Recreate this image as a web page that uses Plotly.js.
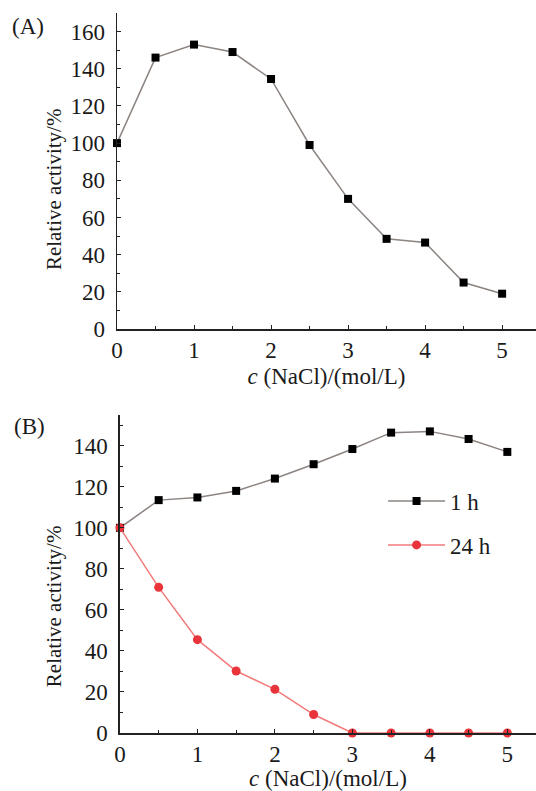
<!DOCTYPE html>
<html>
<head>
<meta charset="utf-8">
<script src="https://cdn.plot.ly/plotly-3.0.1.min.js"></script>
<style>
html,body{margin:0;padding:0;background:#fff;}
#chart{width:536px;height:791px;}
</style>
</head>
<body>
<div id="chart"></div>
<script>
// Data
const concA = [0, 0.5, 1, 1.5, 2, 2.5, 3, 3.5, 4, 4.5, 5];
const activityA = [100, 146, 153, 149, 134.5, 99, 70, 48.5, 46.5, 25, 19];

const concB = [0, 0.5, 1, 1.5, 2, 2.5, 3, 3.5, 4, 4.5, 5];
const activity1h = [100, 113.5, 114.8, 118, 124, 131, 138.4, 146.4, 147, 143.3, 137];
const activity24h = [100, 71, 45.5, 30.2, 21.3, 9, 0, 0, 0, 0, 0];

const seriesNames = ['1 h', '24 h'];
const panelLabels = ['(A)', '(B)'];
const xTitle = '<i>c</i> (NaCl)/(mol/L)';
const yTitle = 'Relative activity/%';

const FONT = '"Liberation Serif", "Times New Roman", Times, serif';
const TXT = '#1a1a1a';
const grayLine = '#8c8480';
const redLine = '#f27a7a';
const redMark = '#e8343a';

const traces = [
  {x: concA, y: activityA, xaxis: 'x', yaxis: 'y', mode: 'lines+markers', showlegend: false, cliponaxis: false,
   line: {color: grayLine, width: 1.5}, marker: {symbol: 'square', size: 8, color: '#000'}},
  {x: concB, y: activity1h, xaxis: 'x2', yaxis: 'y2', mode: 'lines+markers', name: seriesNames[0], cliponaxis: false,
   legendgroup: 'a', line: {color: grayLine, width: 1.5}, marker: {symbol: 'square', size: 8, color: '#000'}},
  {x: concB, y: activity24h, xaxis: 'x2', yaxis: 'y2', mode: 'lines+markers', name: seriesNames[1], cliponaxis: false,
   legendgroup: 'b', line: {color: redLine, width: 1.5}, marker: {symbol: 'circle', size: 9, color: redMark}}
];

function xax(domain, range, anchor) {
  return {
    domain: domain, range: range, anchor: anchor,
    tickmode: 'array', tickvals: [0,1,2,3,4,5], ticktext: ['0','1','2','3','4','5'],
    ticks: 'inside', ticklen: 4, tickwidth: 1, tickcolor: '#222',
    minor: {tickmode: 'array', tickvals: [0.5,1.5,2.5,3.5,4.5], ticks: 'inside', ticklen: 3, tickcolor: '#222', showgrid: false},
    showline: true, linecolor: '#222', linewidth: 1.5, showgrid: false, zeroline: false,
    tickfont: {family: FONT, size: 23, color: TXT},
    title: {text: xTitle, font: {family: FONT, size: 23, color: TXT}, standoff: 6},
    automargin: false, fixedrange: true
  };
}
function yax(domain, range, anchor, tv, mv) {
  return {
    domain: domain, range: range, anchor: anchor,
    tickmode: 'array', tickvals: tv, ticktext: tv.map(String),
    ticks: 'inside', ticklen: 4, tickwidth: 1, tickcolor: '#222',
    minor: {tickmode: 'array', tickvals: mv, ticks: 'inside', ticklen: 3, tickcolor: '#222', showgrid: false},
    showline: true, linecolor: '#222', linewidth: 1.5, showgrid: false, zeroline: false,
    tickfont: {family: FONT, size: 23, color: TXT},
    ticklabelstandoff: 6,
    automargin: false, fixedrange: true
  };
}

const layout = {
  width: 536, height: 791,
  margin: {l: 117, r: 0, t: 13, b: 58},
  paper_bgcolor: '#fff', plot_bgcolor: '#fff',
  font: {family: FONT, size: 23, color: TXT},
  xaxis: xax([0, 1], [0, 5.44], 'y'),
  yaxis: yax([0.5611, 1], [0, 170], 'x', [0,20,40,60,80,100,120,140,160], [10,30,50,70,90,110,130,150,170]),
  xaxis2: xax([0.007, 1], [0, 5.37], 'y2'),
  yaxis2: yax([0, 0.4417], [0, 155], 'x2', [0,20,40,60,80,100,120,140], [10,30,50,70,90,110,130,150]),
  showlegend: true,
  legend: {x: 0.635, xanchor: 'left', y: 0.352, yanchor: 'top', yref: 'paper',
           bgcolor: 'rgba(0,0,0,0)', font: {family: FONT, size: 23, color: TXT},
           tracegroupgap: 11, itemwidth: 57},
  annotations: [
    {text: panelLabels[0], xref: 'paper', yref: 'paper', x: -0.212, y: 0.981, xanchor: 'center', yanchor: 'middle',
     showarrow: false, font: {family: FONT, size: 23, color: TXT}},
    {text: panelLabels[1], xref: 'paper', yref: 'paper', x: -0.21, y: 0.426, xanchor: 'center', yanchor: 'middle',
     showarrow: false, font: {family: FONT, size: 23, color: TXT}},
    {text: yTitle, xref: 'paper', yref: 'paper', x: -0.150, y: 0.7556, xanchor: 'center', yanchor: 'middle',
     textangle: -90, showarrow: false, font: {family: FONT, size: 21, color: TXT}},
    {text: yTitle, xref: 'paper', yref: 'paper', x: -0.150, y: 0.1764, xanchor: 'center', yanchor: 'middle',
     textangle: -90, showarrow: false, font: {family: FONT, size: 21, color: TXT}}
  ]
};

Plotly.newPlot('chart', traces, layout, {staticPlot: true, displayModeBar: false});
</script>
</body>
</html>
